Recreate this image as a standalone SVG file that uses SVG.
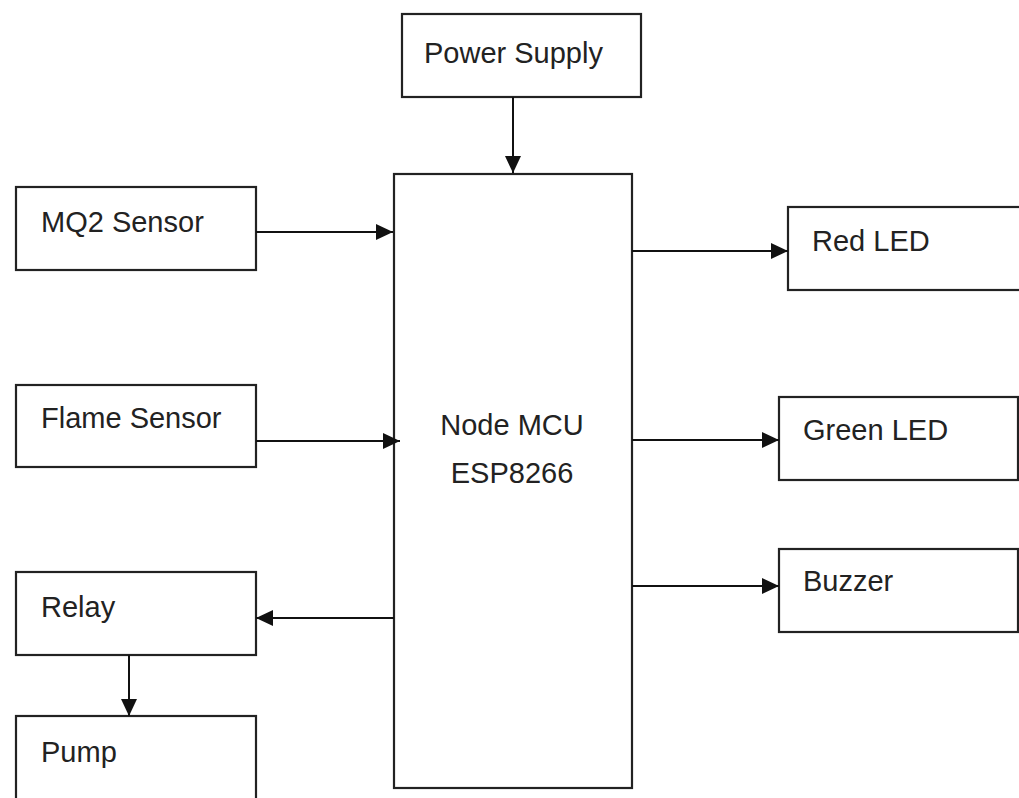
<svg xmlns="http://www.w3.org/2000/svg" width="1019" height="798" viewBox="0 0 1019 798">
<style>
.box{fill:#fff;stroke:#222;stroke-width:2.2}
.lbl{font-family:"Liberation Sans",Arial,sans-serif;font-size:29px;fill:#222}
.c{text-anchor:middle}
.conn{stroke:#111;stroke-width:2;fill:none;marker-end:url(#ah)}
</style>
<defs>
<marker id="ah" markerWidth="17" markerHeight="16" refX="17" refY="8" orient="auto" markerUnits="userSpaceOnUse">
<path d="M0,0 L17,8 L0,16 Z" fill="#111"/>
</marker>
</defs>
<rect width="1019" height="798" fill="#fff"/>
<g id="power-supply"><rect class="box" x="402" y="14" width="239" height="83"/><text class="lbl" x="424" y="63">Power Supply</text></g>
<g id="node-mcu"><rect class="box" x="394" y="174" width="238" height="614"/><text class="lbl c" x="512" y="435">Node MCU</text><text class="lbl c" x="512" y="483">ESP8266</text></g>
<g id="mq2"><rect class="box" x="16" y="187" width="240" height="83"/><text class="lbl" x="41" y="232">MQ2 Sensor</text></g>
<g id="flame"><rect class="box" x="16" y="385" width="240" height="82"/><text class="lbl" x="41" y="428">Flame Sensor</text></g>
<g id="relay"><rect class="box" x="16" y="572" width="240" height="83"/><text class="lbl" x="41" y="617">Relay</text></g>
<g id="pump"><rect class="box" x="16" y="716" width="240" height="100"/><text class="lbl" x="41" y="762">Pump</text></g>
<g id="red-led"><rect class="box" x="788" y="207" width="250" height="83"/><text class="lbl" x="812" y="251">Red LED</text></g>
<g id="green-led"><rect class="box" x="779" y="397" width="239" height="83"/><text class="lbl" x="803" y="440">Green LED</text></g>
<g id="buzzer"><rect class="box" x="779" y="549" width="239" height="83"/><text class="lbl" x="803" y="591">Buzzer</text></g>
<g id="connectors">
<line class="conn" x1="513" y1="97" x2="513" y2="173"/>
<line class="conn" x1="256" y1="232" x2="393" y2="232"/>
<line class="conn" x1="256" y1="441" x2="400" y2="441"/>
<line class="conn" x1="394" y1="618" x2="256" y2="618"/>
<line class="conn" x1="129" y1="655" x2="129" y2="716"/>
<line class="conn" x1="632" y1="251" x2="788" y2="251"/>
<line class="conn" x1="632" y1="440" x2="779" y2="440"/>
<line class="conn" x1="632" y1="586" x2="779" y2="586"/>
</g>
</svg>
